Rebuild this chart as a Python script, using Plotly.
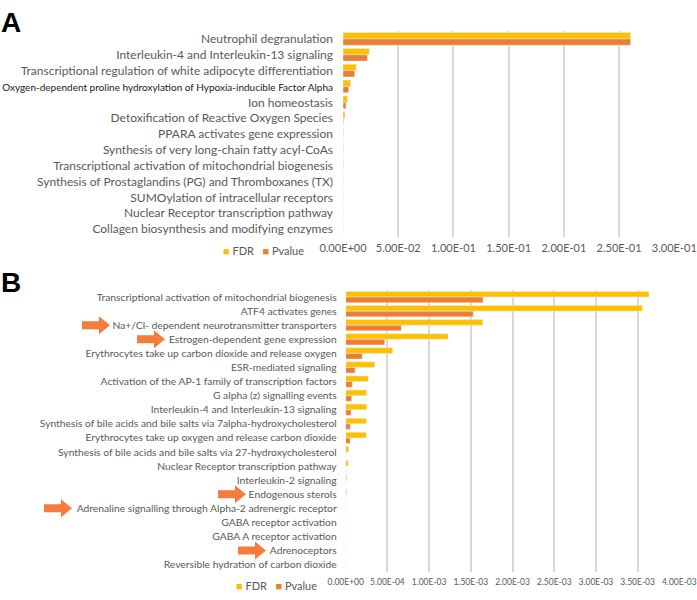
import plotly.graph_objects as go

W, H = 697, 600

# ---------------- Panel A data ----------------
cats_a = [
    "Neutrophil degranulation",
    "Interleukin-4 and Interleukin-13 signaling",
    "Transcriptional regulation of white adipocyte differentiation",
    "Oxygen-dependent proline hydroxylation of Hypoxia-inducible Factor Alpha",
    "Ion homeostasis",
    "Detoxification of Reactive Oxygen Species",
    "PPARA activates gene expression",
    "Synthesis of very long-chain fatty acyl-CoAs",
    "Transcriptional activation of mitochondrial biogenesis",
    "Synthesis of Prostaglandins (PG) and Thromboxanes (TX)",
    "SUMOylation of intracellular receptors",
    "Nuclear Receptor transcription pathway",
    "Collagen biosynthesis and modifying enzymes",
]
fdr_a = [0.2604, 0.0238, 0.0120, 0.0070, 0.0042, 0.0018, 0.0004, 0.0003, 0.0003, 0.0002, 0.0002, 0.0001, 0.0001]
pval_a = [0.2604, 0.0220, 0.0106, 0.0052, 0.0027, 0.0004, 0.00008, 0.00006, 0.00005, 0.00004, 0.00003, 0.00002, 0.00002]
ticks_a = [0, 0.05, 0.10, 0.15, 0.20, 0.25, 0.30]

# ---------------- Panel B data ----------------
cats_b = [
    "Transcriptional activation of mitochondrial biogenesis",
    "ATF4 activates genes",
    "Na+/Cl- dependent neurotransmitter transporters",
    "Estrogen-dependent gene expression",
    "Erythrocytes take up carbon dioxide and release oxygen",
    "ESR-mediated signaling",
    "Activation of the AP-1 family of transcription factors",
    "G alpha (z) signalling events",
    "Interleukin-4 and Interleukin-13 signaling",
    "Synthesis of bile acids and bile salts via 7alpha-hydroxycholesterol",
    "Erythrocytes take up oxygen and release carbon dioxide",
    "Synthesis of bile acids and bile salts via 27-hydroxycholesterol",
    "Nuclear Receptor transcription pathway",
    "Interleukin-2 signaling",
    "Endogenous sterols",
    "Adrenaline signalling through Alpha-2 adrenergic receptor",
    "GABA receptor activation",
    "GABA A receptor activation",
    "Adrenoceptors",
    "Reversible hydration of carbon dioxide",
]
fdr_b = [0.003637, 0.003557, 0.001643, 0.001227, 0.000564, 0.000348, 0.000271, 0.000252, 0.000252,
         0.000247, 0.000247, 0.000036, 0.000030, 0.000012, 0.000012, 0.0000015, 0.000001, 0.000001,
         0.000001, 0.000001]
pval_b = [0.001646, 0.001530, 0.000667, 0.000468, 0.000199, 0.000112, 0.000079, 0.000072, 0.000064,
          0.000055, 0.000052, 0.000004, 0.000003, 0.000001, 0.000001, 0.0000001, 0.0000001, 0.0000001,
          0.0000001, 0.0000001]
ticks_b = [0, 0.0005, 0.0010, 0.0015, 0.0020, 0.0025, 0.0030, 0.0035, 0.0040]
arrow_rows_b = ["Na+/Cl- dependent neurotransmitter transporters", "Estrogen-dependent gene expression",
                "Endogenous sterols", "Adrenaline signalling through Alpha-2 adrenergic receptor",
                "Adrenoceptors"]
arrow_tip_px = [110, 165, 246, 72, 266]

# ---------------- styles ----------------
YEL = "#FFC000"
ORA = "#ED7D31"
GRID = "#D9D9D9"
TXT = "#595959"
FONT = "Lato"

def fmt(v):
    return "{:.2E}".format(v)

def px_x(p):
    return p / W

def px_y(p):
    return 1 - p / H

ticktext_a = []
for c in cats_a:
    if c.startswith("Oxygen-dependent"):
        ticktext_a.append('<span style="color:#1a1a1a;font-size:10px">' + c + '</span>')
    else:
        ticktext_a.append(c)

fig = go.Figure()
fig.add_trace(go.Bar(y=cats_a, x=fdr_a, name="FDR", orientation="h", marker_color=YEL,
                     xaxis="x", yaxis="y", showlegend=False))
fig.add_trace(go.Bar(y=cats_a, x=pval_a, name="Pvalue", orientation="h", marker_color=ORA,
                     xaxis="x", yaxis="y", showlegend=False))
fig.add_trace(go.Bar(y=cats_b, x=fdr_b, name="FDR", orientation="h", marker_color=YEL,
                     xaxis="x2", yaxis="y2", showlegend=False))
fig.add_trace(go.Bar(y=cats_b, x=pval_b, name="Pvalue", orientation="h", marker_color=ORA,
                     xaxis="x2", yaxis="y2", showlegend=False))

axis_common = dict(showgrid=True, gridcolor=GRID, gridwidth=2, zeroline=False, showline=False,
                   ticks="", color=TXT, automargin=False)

fig.update_layout(
    width=W, height=H,
    margin=dict(l=0, r=0, t=0, b=0, autoexpand=False),
    paper_bgcolor="white", plot_bgcolor="white",
    barmode="group", bargap=0.2, bargroupgap=0,
    font=dict(family=FONT, color=TXT),
    xaxis=dict(domain=[px_x(343), px_x(674.3)], range=[0, 0.3], anchor="y",
               tickvals=ticks_a, ticktext=[fmt(v) for v in ticks_a],
               tickfont=dict(size=11, color=TXT, family=FONT), ticklabelstandoff=3, **axis_common),
    yaxis=dict(domain=[px_y(237), px_y(31)], type="category", categoryorder="array",
               categoryarray=cats_a, autorange="reversed", anchor="x",
               tickvals=cats_a, ticktext=ticktext_a,
               tickfont=dict(size=12, color=TXT, family=FONT), showgrid=False,
               zeroline=False, showline=False, ticks="", ticklabelstandoff=9, automargin=False),
    xaxis2=dict(domain=[px_x(345.7), px_x(679.3)], range=[0, 0.004], anchor="y2",
                tickvals=ticks_b, ticktext=[fmt(v) for v in ticks_b],
                tickfont=dict(size=8.5, color=TXT, family=FONT), ticklabelstandoff=4, **axis_common),
    yaxis2=dict(domain=[px_y(571.7), px_y(290)], type="category", categoryorder="array",
                categoryarray=cats_b, autorange="reversed", anchor="x2",
                tickfont=dict(size=10.3, color=TXT, family=FONT), showgrid=False,
                zeroline=False, showline=False, ticks="", ticklabelstandoff=8, automargin=False),
)

# panel letters
fig.add_annotation(text="<b>A</b>", x=px_x(-1), y=px_y(5), xref="paper", yref="paper",
                   xanchor="left", yanchor="top", showarrow=False,
                   font=dict(family="Liberation Sans", size=28, color="black"))
fig.add_annotation(text="<b>B</b>", x=px_x(-1), y=px_y(265), xref="paper", yref="paper",
                   xanchor="left", yanchor="top", showarrow=False,
                   font=dict(family="Liberation Sans", size=28, color="black"))

# legends (Excel-like compact)
def legend(x_px, y_px, size):
    fig.add_annotation(
        text='<span style="color:%s">■</span> FDR   <span style="color:%s">■</span> Pvalue' % (YEL, ORA),
        x=px_x(x_px), y=px_y(y_px), xref="paper", yref="paper", xanchor="left", yanchor="middle",
        showarrow=False, font=dict(family=FONT, size=size, color=TXT))

legend(221, 250, 11)
legend(234, 585, 11)

# arrows in panel B
arrow_path = "M-28,-4 L-11,-4 L-11,-9 L0,0 L-11,9 L-11,4 L-28,4 Z"
for row, tip in zip(arrow_rows_b, arrow_tip_px):
    fig.add_shape(type="path", path=arrow_path, xref="paper", yref="y2",
                  xsizemode="pixel", ysizemode="pixel",
                  xanchor=px_x(tip), yanchor=cats_b.index(row),
                  fillcolor="#F47C3C", line=dict(width=0))

fig.write_html("out.html", config={"displayModeBar": False},
               post_script="document.body.style.margin='0px';")
